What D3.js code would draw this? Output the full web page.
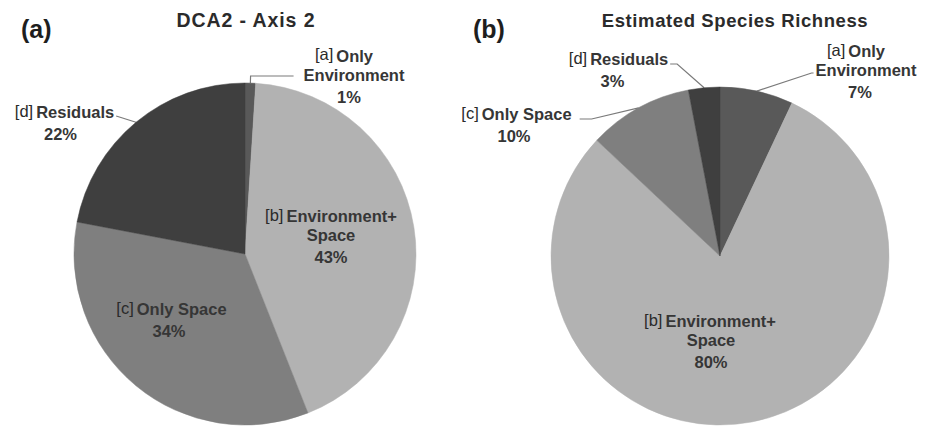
<!DOCTYPE html>
<html>
<head>
<meta charset="utf-8">
<script src="https://cdn.jsdelivr.net/npm/d3@7"></script>
<style>
  html, body { margin: 0; padding: 0; background: #ffffff; }
  svg { display: block; }
  text { font-family: "Liberation Sans", Arial, sans-serif; }
</style>
</head>
<body>
<svg id="chart" width="927" height="426"></svg>
<script>
// Variance partitioning components
const componentTags = ["[a]", "[b]", "[c]", "[d]"];
const componentLines = [
  ["Only", "Environment"],
  ["Environment+", "Space"],
  ["Only Space"],
  ["Residuals"]
];

// Percent of explained variation for each component
const dcaAxis2Values = [1, 43, 34, 22];
const richnessValues = [7, 80, 10, 3];

const panelTags = ["(a)", "(b)"];
const panelTitles = ["DCA2 - Axis 2", "Estimated Species Richness"];

// Styling
const sliceColors = ["#595959", "#b2b2b2", "#7f7f7f", "#3f3f3f"];
const textColor = "#363636";
const leaderColor = "#7a7a7a";

// Layout of each panel: pie centre/radius, title and label placement
const panels = [
  {
    values: dcaAxis2Values,
    cx: 245, cy: 254, r: 171,
    tag: { x: 21, y: 38 },
    title: { x: 246, y: 27, size: 19.5, spacing: 0.9 },
    labels: [
      { dx: 109, dy: -192.5, firstShift: -10, pctShift: -5,
        leader: { side: "left", gap: 10, ey: 14.5, tail: 43 } },
      { dx: 86, dy: -32, firstShift: 0, pctShift: 0 },
      { dx: -73.5, dy: 61, firstShift: 0, pctShift: -2.5 },
      { dx: -180.5, dy: -136, firstShift: 0, pctShift: -4,
        leader: { side: "right", gap: 2, ey: -2, tail: 0 } }
    ]
  },
  {
    values: richnessValues,
    cx: 720, cy: 256, r: 169,
    tag: { x: 473, y: 38 },
    title: { x: 735, y: 27, size: 18.5, spacing: 0.6 },
    labels: [
      { dx: 146, dy: -199, firstShift: -10, pctShift: -6,
        leader: { side: "left", gap: 2, ey: 16, tail: 2 } },
      { dx: -9, dy: 71, firstShift: -1, pctShift: 0 },
      { dx: -203.5, dy: -136, firstShift: 0, pctShift: -2.5,
        leader: { side: "right", gap: 8, ey: -1, tail: 12 } },
      { dx: -101.5, dy: -191, firstShift: 0, pctShift: -6,
        leader: { side: "right", gap: 2, ey: -1, tail: 7 } }
    ]
  }
];

const labelSize = 16.5;
const nameStep = 19;
const pctStep = 22;

const svg = d3.select("#chart");
const pie = d3.pie().sort(null).value(d => d);

panels.forEach((p, pi) => {
  const g = svg.append("g");

  // panel tag and title
  g.append("text")
    .attr("x", p.tag.x).attr("y", p.tag.y)
    .attr("font-size", 25).attr("font-weight", "bold")
    .attr("fill", "#1e1e1e")
    .text(panelTags[pi]);

  g.append("text")
    .attr("x", p.title.x).attr("y", p.title.y)
    .attr("text-anchor", "middle")
    .attr("font-size", p.title.size).attr("font-weight", "bold")
    .attr("letter-spacing", p.title.spacing)
    .attr("fill", "#2b2b2b")
    .text(panelTitles[pi]);

  const arcs = pie(p.values);
  const arc = d3.arc().innerRadius(0).outerRadius(p.r);

  const pieG = g.append("g").attr("transform", `translate(${p.cx},${p.cy})`);
  pieG.selectAll("path.slice")
    .data(arcs)
    .join("path")
    .attr("class", "slice")
    .attr("d", arc)
    .attr("fill", (d, i) => sliceColors[i])
    .attr("stroke", (d, i) => sliceColors[i])
    .attr("stroke-width", 0.5);

  // data labels
  arcs.forEach((a, i) => {
    const L = p.labels[i];
    const lx = p.cx + L.dx;
    const ly = p.cy + L.dy;
    const lines = componentLines[i];
    const t = g.append("text")
      .attr("text-anchor", "middle")
      .attr("font-size", labelSize)
      .attr("font-weight", "bold")
      .attr("fill", textColor);

    lines.forEach((line, li) => {
      if (li === 0) {
        t.append("tspan")
          .attr("x", lx + L.firstShift).attr("y", ly)
          .attr("font-weight", "normal")
          .attr("font-size", labelSize)
          .attr("fill", "#2a2a2a")
          .attr("dy", -1.5)
          .text(componentTags[i]);
        t.append("tspan")
          .attr("dx", 3).attr("dy", 1.5)
          .text(line);
      } else {
        t.append("tspan")
          .attr("x", lx).attr("y", ly + li * nameStep)
          .text(line);
      }
    });
    t.append("tspan")
      .attr("x", lx + L.pctShift)
      .attr("y", ly + (lines.length - 1) * nameStep + pctStep)
      .text(p.values[i] + "%");

    if (L.leader) {
      const bb = t.node().getBBox();
      const mid = (a.startAngle + a.endAngle) / 2;
      const sx = p.cx + p.r * Math.sin(mid);
      const sy = p.cy - p.r * Math.cos(mid);
      const ey = ly + L.leader.ey;
      const ex = L.leader.side === "left" ? bb.x - L.leader.gap : bb.x + bb.width + L.leader.gap;
      const kx = L.leader.side === "left" ? ex - L.leader.tail : ex + L.leader.tail;
      g.insert("path", "text")
        .attr("d", d3.line()([[sx, sy], [kx, ey], [ex, ey]]))
        .attr("fill", "none")
        .attr("stroke", leaderColor)
        .attr("stroke-width", 1.2);
    }
  });
});
</script>
</body>
</html>
